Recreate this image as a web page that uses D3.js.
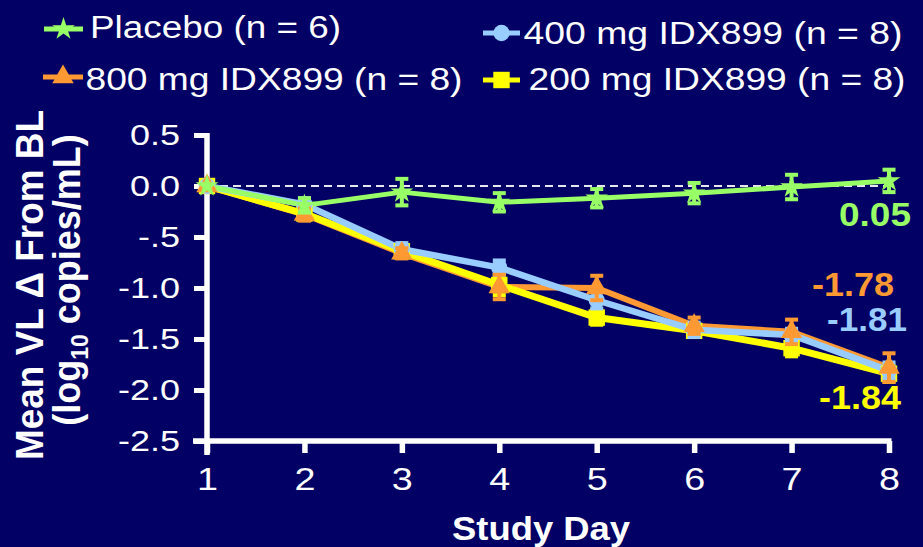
<!DOCTYPE html>
<html>
<head>
<meta charset="utf-8">
<script src="https://cdn.jsdelivr.net/npm/d3@7"></script>
<style>
  html, body { margin: 0; padding: 0; background: #020064; }
  svg { display: block; }
  text { font-family: "Liberation Sans", Arial, Helvetica, sans-serif; fill: #ffffff; }
</style>
</head>
<body>
<svg id="chart" width="923" height="547"></svg>
<script>
// Study days on the x axis
const days = [1, 2, 3, 4, 5, 6, 7, 8];

// Mean change in viral load from baseline (log10 copies/mL) and error bar half-widths
const placebo    = [0, -0.19, -0.06, -0.16, -0.12, -0.07, -0.01, 0.05];
const placeboErr = [0, 0.07, 0.13, 0.09, 0.09, 0.10, 0.12, 0.11];
const mg800      = [0, -0.28, -0.66, -0.99, -1.00, -1.37, -1.43, -1.78];
const mg800Err   = [0, 0.06, 0.05, 0.12, 0.12, 0.08, 0.12, 0.14];
const mg400      = [0, -0.18, -0.62, -0.80, -1.12, -1.41, -1.46, -1.81];
const mg400Err   = [0, 0.06, 0.06, 0.07, 0.08, 0.07, 0.06, 0.08];
const mg200      = [0, -0.27, -0.64, -0.97, -1.29, -1.42, -1.59, -1.84];
const mg200Err   = [0, 0.05, 0.05, 0.10, 0.07, 0.06, 0.08, 0.08];

// Axis ticks
const yTicks = [0.5, 0, -0.5, -1, -1.5, -2, -2.5];
const yTickLabels = ["0.5", "0.0", "-.5", "-1.0", "-1.5", "-2.0", "-2.5"];
const xTickLabels = ["1", "2", "3", "4", "5", "6", "7", "8"];

// Legend and end-of-line labels
const seriesNames = ["Placebo (n = 6)", "800 mg IDX899 (n = 8)", "400 mg IDX899 (n = 8)", "200 mg IDX899 (n = 8)"];
const endLabels = ["0.05", "-1.78", "-1.81", "-1.84"];

const svg = d3.select("#chart");
svg.append("rect").attr("width", 923).attr("height", 547).attr("fill", "#020064");

const x = d3.scaleLinear().domain([1, 8]).range([207, 889]);
const y = d3.scaleLinear().domain([-2.5, 0.5]).range([441, 135]);

const series = [
  { name: seriesNames[0], values: placebo, err: placeboErr, color: "#99ff66", symbol: d3.symbolStar, size: 160, width: 5,
    legend: { x0: 44, x1: 83, y: 29, tx: 90, ty: 37.5, tl: 251 },
    end: { label: endLabels[0], x: 839, dy: 45.5, tl: 72 } },
  { name: seriesNames[1], values: mg800, err: mg800Err, color: "#ff9933", symbol: d3.symbolTriangle, size: 200, width: 6,
    legend: { x0: 43, x1: 83, y: 77, tx: 85.5, ty: 90, tl: 377 },
    end: { label: endLabels[1], x: 812, dy: -71.5, tl: 82 } },
  { name: seriesNames[2], values: mg400, err: mg400Err, color: "#99ccff", symbol: d3.symbolCircle, size: 210, width: 6.5,
    legend: { x0: 483, x1: 520, y: 33, tx: 523.5, ty: 43.5, tl: 379 },
    end: { label: endLabels[2], x: 827, dy: -39.5, tl: 80 } },
  { name: seriesNames[3], values: mg200, err: mg200Err, color: "#ffff00", symbol: d3.symbolSquare, size: 270, width: 7,
    legend: { x0: 483, x1: 520, y: 80, tx: 528.5, ty: 90, tl: 377 },
    end: { label: endLabels[3], x: 819, dy: 35, tl: 82 } }
];

// Zero reference line
svg.append("line")
  .attr("x1", x(1)).attr("x2", x(8) + 2)
  .attr("y1", y(0)).attr("y2", y(0))
  .attr("stroke", "#e6e6f0").attr("stroke-width", 2)
  .attr("stroke-dasharray", "8,5");

// Axes
const yAxis = d3.axisLeft(y).tickValues(yTicks)
  .tickFormat((d, i) => yTickLabels[i]).tickSize(13).tickPadding(14).tickSizeOuter(0);
const gy = svg.append("g").attr("transform", `translate(${x(1)},0)`).call(yAxis);
gy.select(".domain").remove();
gy.selectAll(".tick line").attr("stroke", "#fff").attr("stroke-width", 5);
gy.selectAll(".tick text")
  .style("font-size", "30px").attr("fill", "#fff")
  .each(function () {
    const t = d3.select(this);
    const tx = +t.attr("x");
    t.attr("x", 0).attr("transform", `translate(${tx},0) scale(1.2,1)`);
  });

const xAxis = d3.axisBottom(x).tickValues(days)
  .tickFormat((d, i) => xTickLabels[i]).tickSize(12).tickPadding(0).tickSizeOuter(0);
const gx = svg.append("g").attr("transform", `translate(0,${y(-2.5)})`).call(xAxis);
gx.select(".domain").remove();
gx.selectAll(".tick line").attr("stroke", "#fff").attr("stroke-width", 5.5);
gx.selectAll(".tick text")
  .style("font-size", "32px").attr("fill", "#fff")
  .attr("dy", null).attr("y", 0)
  .attr("transform", "translate(0,49) scale(1.18,1)");

// Axis lines
svg.append("line")
  .attr("x1", x(1)).attr("x2", x(1))
  .attr("y1", y(0.5) - 2).attr("y2", y(-2.5) + 14)
  .attr("stroke", "#fff").attr("stroke-width", 5.5);
svg.append("line")
  .attr("x1", x(1) - 14).attr("x2", x(8) + 2.5)
  .attr("y1", y(-2.5)).attr("y2", y(-2.5))
  .attr("stroke", "#fff").attr("stroke-width", 5.5);

// Axis titles
svg.append("text")
  .attr("transform", "translate(452,540) scale(1.06,1)")
  .attr("font-weight", "bold").style("font-size", "34px")
  .attr("textLength", 168).attr("lengthAdjust", "spacingAndGlyphs")
  .text("Study Day");

svg.append("text")
  .attr("transform", "translate(42.5,285) rotate(-90) scale(1,1.08)")
  .attr("text-anchor", "middle")
  .attr("font-weight", "bold").style("font-size", "36px")
  .attr("textLength", 350).attr("lengthAdjust", "spacingAndGlyphs")
  .text("Mean VL \u0394 From BL");

const t2 = svg.append("text")
  .attr("transform", "translate(80,280) rotate(-90) scale(1,1.08)")
  .attr("text-anchor", "middle")
  .attr("font-weight", "bold").style("font-size", "36px");
t2.append("tspan").text("(log");
t2.append("tspan").attr("dy", 7).style("font-size", "23px").text("10");
t2.append("tspan").attr("dy", -7).text(" copies/mL)");

// Series lines
const line = d3.line().x((d, i) => x(days[i])).y(d => y(d));
const lineOrder = [1, 3, 2, 0];
lineOrder.forEach(k => {
  const s = series[k];
  svg.append("path")
    .datum(s.values)
    .attr("d", line)
    .attr("fill", "none")
    .attr("stroke", s.color)
    .attr("stroke-width", s.width)
    .attr("stroke-linejoin", "round");
});

// Error bars and markers
const markOrder = [3, 2, 1, 0];
markOrder.forEach(k => {
  const s = series[k];
  const g = svg.append("g");
  s.values.forEach((v, i) => {
    const e = s.err[i];
    if (e > 0) {
      const cx = x(days[i]);
      g.append("line").attr("x1", cx).attr("x2", cx)
        .attr("y1", y(v + e)).attr("y2", y(v - e))
        .attr("stroke", s.color).attr("stroke-width", 4);
      [v + e, v - e].forEach(b => {
        g.append("line").attr("x1", cx - 6.5).attr("x2", cx + 6.5)
          .attr("y1", y(b)).attr("y2", y(b))
          .attr("stroke", s.color).attr("stroke-width", 4);
      });
    }
  });
  g.selectAll("path.mk")
    .data(s.values)
    .join("path")
    .attr("class", "mk")
    .attr("transform", (d, i) => `translate(${x(days[i])},${y(d)})`)
    .attr("d", d3.symbol().type(s.symbol).size(s.size))
    .attr("fill", s.color);
});

// End-of-line value labels
series.forEach(s => {
  const last = s.values[s.values.length - 1];
  svg.append("text")
    .attr("x", s.end.x)
    .attr("y", y(last) + s.end.dy)
    .attr("font-weight", "bold").style("font-size", "34px")
    .attr("fill", s.color).style("fill", s.color)
    .attr("textLength", s.end.tl).attr("lengthAdjust", "spacingAndGlyphs")
    .text(s.end.label);
});

// Legend
series.forEach(s => {
  const L = s.legend;
  svg.append("line")
    .attr("x1", L.x0).attr("x2", L.x1).attr("y1", L.y).attr("y2", L.y)
    .attr("stroke", s.color).attr("stroke-width", 5);
  svg.append("path")
    .attr("transform", `translate(${(L.x0 + L.x1) / 2},${L.y})`)
    .attr("d", d3.symbol().type(s.symbol).size(s.size))
    .attr("fill", s.color);
  svg.append("text")
    .attr("x", L.tx).attr("y", L.ty)
    .style("font-size", "31px")
    .attr("textLength", L.tl).attr("lengthAdjust", "spacingAndGlyphs")
    .text(s.name);
});
</script>
</body>
</html>
